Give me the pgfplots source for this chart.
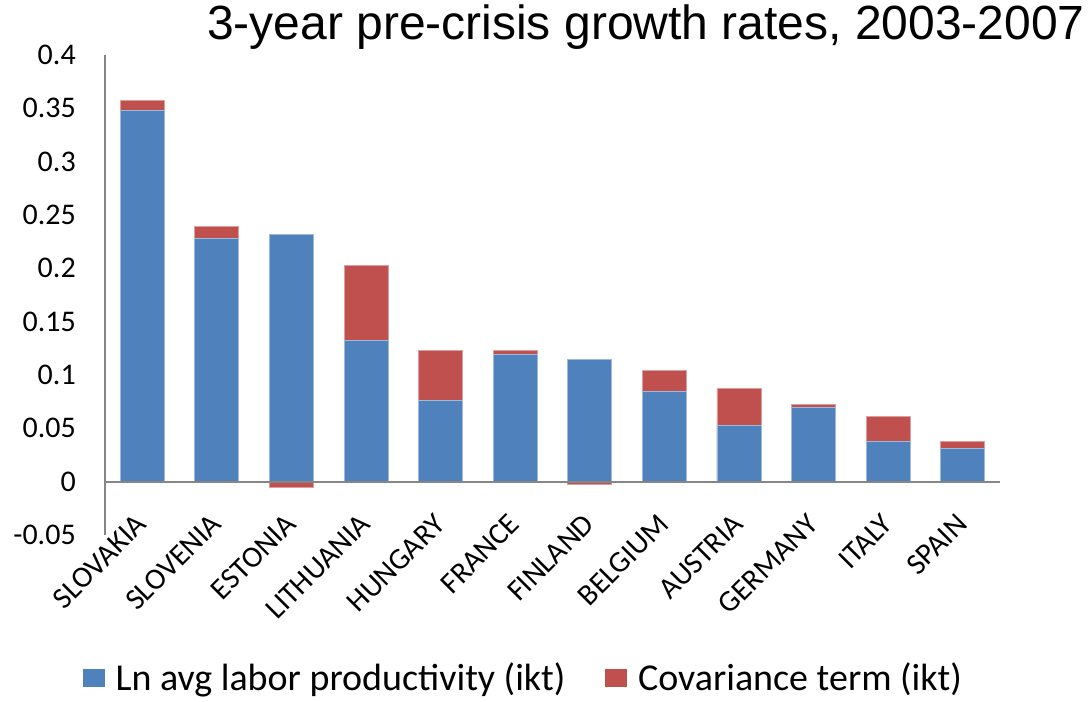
\documentclass[border=0pt]{standalone}
\usepackage{pgfplots}
\pgfplotsset{compat=1.18}
\usepackage{pgfplotstable}
\usepackage{fontspec}
\setmainfont{Carlito}
\newfontfamily\titlefont{Liberation Sans}

\definecolor{lpblue}{HTML}{4F81BD}
\definecolor{covred}{HTML}{C0504D}
\definecolor{axisgray}{HTML}{868686}

% growth decomposition: productivity component and covariance component
\pgfplotstableread{
country    lp     cov
SLOVAKIA   0.348  0.009
SLOVENIA   0.228  0.011
ESTONIA    0.232  -0.005
LITHUANIA  0.132  0.071
HUNGARY    0.076  0.047
FRANCE     0.119  0.004
FINLAND    0.115  -0.003
BELGIUM    0.085  0.019
AUSTRIA    0.053  0.034
GERMANY    0.070  0.002
ITALY      0.038  0.023
SPAIN      0.031  0.007
}\growth

\begin{document}
\begin{tikzpicture}
\useasboundingbox (0,0) rectangle (816.75pt,525.75pt);
\begin{axis}[
  at={(78.75pt,124.5pt)}, anchor=south west,
  scale only axis,
  width=671.25pt, height=360pt,
  xmin=-0.5, xmax=11.5,
  ymin=-0.05, ymax=0.4,
  ytick={-0.05,0,0.05,0.1,0.15,0.2,0.25,0.3,0.35,0.4},
  yticklabels={-0.05,0,0.05,0.1,0.15,0.2,0.25,0.3,0.35,0.4},
  xtick={0,...,11},
  xticklabels={SLOVAKIA,SLOVENIA,ESTONIA,LITHUANIA,HUNGARY,FRANCE,FINLAND,BELGIUM,AUSTRIA,GERMANY,ITALY,SPAIN},
  /pgf/number format/assume math mode=true,
  tick style={draw=none},
  axis x line*=bottom, axis y line*=left,
  x axis line style={draw=none},
  y axis line style={axisgray, line width=1.5pt},
  ticklabel style={font=\fontsize{22.5}{27}\selectfont, inner sep=0pt},
  yticklabel style={anchor=east, xshift=-21.75pt},
  xticklabel style={anchor=east, rotate=45, xshift=8pt, yshift=8.7pt},
  title={\titlefont\fontsize{36}{40}\selectfont 3-year pre-crisis growth rates, 2003-2007},
  title style={at={(1.095,1.0146)}, anchor=base east, inner sep=0pt},
  legend columns=2,
  legend style={at={(-0.0246,-0.298)}, anchor=west, draw=none, fill=none,
    inner sep=0pt, outer sep=0pt,
    font=\fontsize{28.5}{32}\selectfont,
    nodes={inner sep=0pt},
    /tikz/every odd column/.append style={column sep=8pt},
    /tikz/every even column/.append style={column sep=30pt}},
  legend cell align=left,
  legend image code/.code={\path[#1] (0pt,-7pt) rectangle (16.5pt,7pt);},
]
\addlegendimage{fill=lpblue, draw=none}
\addlegendentry{Ln avg labor productivity (ikt)}
\addlegendimage{fill=covred, draw=none}
\addlegendentry{Covariance term (ikt)}

% positive covariance sits on top of the productivity bar
\addplot[ybar, bar width=33pt, bar shift=0pt, fill=covred, draw=covred!55!white, line width=0.6pt, forget plot]
  table[x expr=\coordindex, y expr={\thisrow{lp}+max(\thisrow{cov},0)}] {\growth};
\addplot[ybar, bar width=33pt, bar shift=0pt, fill=lpblue, draw=lpblue!55!white, line width=0.6pt, forget plot]
  table[x expr=\coordindex, y=lp] {\growth};
% negative covariance is drawn below zero
\addplot[ybar, bar width=33pt, bar shift=0pt, fill=covred, draw=covred!55!white, line width=0.6pt, forget plot,
  restrict y to domain=-1:-0.00001]
  table[x expr=\coordindex, y expr={min(\thisrow{cov},0)}] {\growth};

\draw[axisgray, line width=1.5pt] (axis cs:-0.5,0) -- (axis cs:11.5,0);
\end{axis}
\end{tikzpicture}
\end{document}
